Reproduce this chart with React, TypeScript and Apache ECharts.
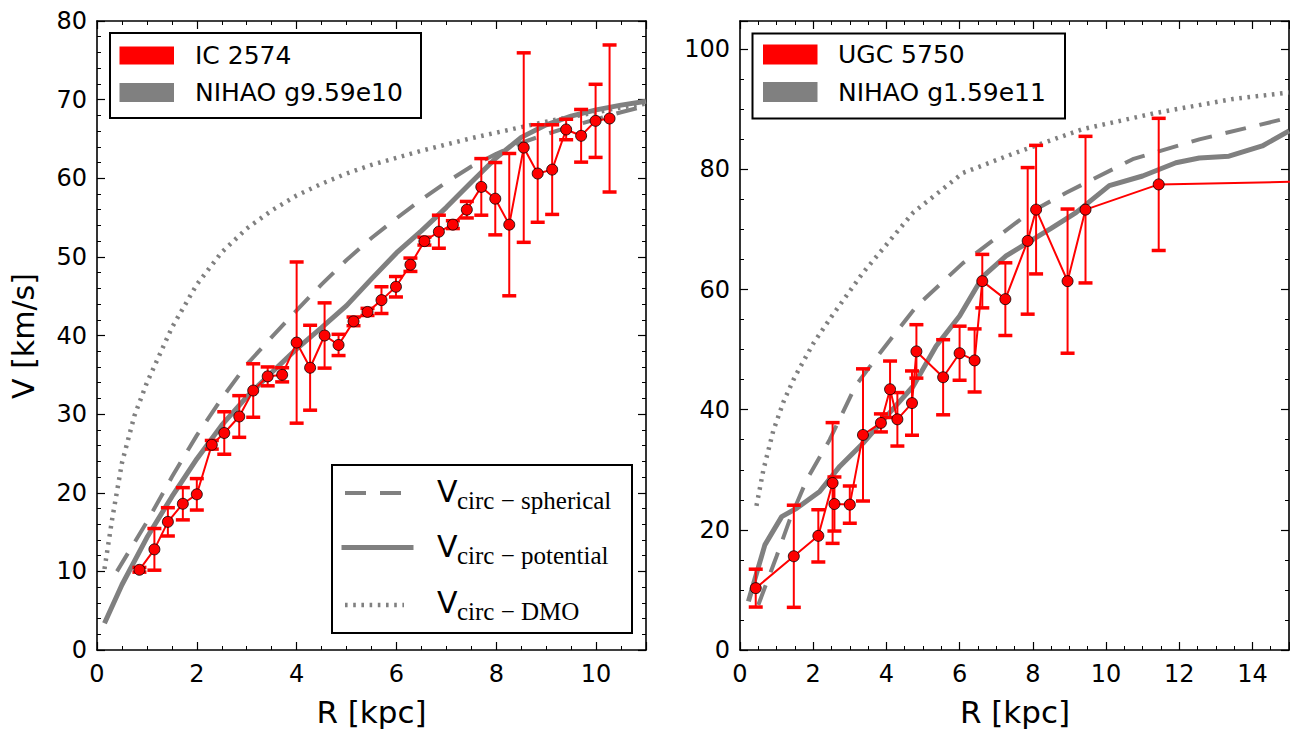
import React, { useEffect, useRef } from 'react';
import * as echarts from 'echarts';

const FONT = '"DejaVu Sans", sans-serif';
const SERIF = '"Liberation Serif", serif';
const GRAY = '#808080';
const RED = '#ff0000';

// ---------- Left panel: IC 2574 ----------
const icR = [0.85, 1.15, 1.42, 1.72, 2.0, 2.3, 2.55, 2.85, 3.13, 3.42, 3.71, 4.0, 4.27, 4.56, 4.84, 5.14, 5.42, 5.7, 5.99, 6.28, 6.56, 6.85, 7.13, 7.41, 7.7, 7.98, 8.26, 8.55, 8.83, 9.12, 9.4, 9.7, 9.99, 10.27];
const icV = [10.2, 12.8, 16.3, 18.6, 19.8, 26.1, 27.6, 29.7, 33.0, 34.8, 35.0, 39.1, 35.9, 40.0, 38.8, 41.8, 43.0, 44.5, 46.2, 49.0, 52.0, 53.2, 54.1, 56.0, 58.9, 57.4, 54.1, 63.9, 60.6, 61.1, 66.2, 65.4, 67.3, 67.6];
const icErr = [0.3, 2.65, 1.8, 2.05, 2.0, 0.55, 2.7, 2.65, 3.4, 1.2, 0.9, 10.25, 5.4, 4.15, 1.35, 0.55, 0.45, 1.7, 1.3, 0.85, 0.5, 2.1, 0.5, 1.05, 3.6, 4.6, 9.05, 12.05, 6.2, 5.7, 1.3, 3.35, 4.65, 9.35];

const lPotR = [0.15, 0.5, 1.0, 1.5, 2.0, 2.5, 3.0, 3.5, 4.0, 4.5, 5.0, 5.5, 6.0, 6.5, 7.0, 7.5, 8.0, 8.5, 9.0, 9.5, 10.0, 10.5, 11.0];
const lPotV = [3.4, 8.3, 14.3, 19.5, 24.3, 28.6, 32.2, 35.3, 38.3, 41.0, 43.8, 47.2, 50.5, 53.3, 56.3, 59.5, 62.6, 65.2, 66.8, 67.9, 68.7, 69.3, 69.8];
const lSphR = [0.4, 1.0, 1.5, 2.0, 2.5, 3.0, 3.5, 4.0, 4.5, 5.0, 5.5, 6.0, 6.5, 7.0, 7.5, 8.0, 8.5, 9.0, 9.5, 10.0, 10.5, 11.0];
const lSphV = [10.0, 16.3, 22.0, 27.3, 32.0, 36.3, 39.8, 43.2, 46.5, 49.6, 52.4, 54.9, 57.3, 59.5, 61.5, 63.1, 64.5, 65.6, 66.6, 67.5, 68.4, 69.2];
const lDmoR = [0.15, 0.3, 0.5, 0.75, 1.0, 1.5, 2.0, 2.5, 3.0, 3.5, 4.0, 4.5, 5.0, 5.5, 6.0, 6.5, 7.0, 7.5, 8.0, 8.5, 9.0, 9.5, 10.0, 10.5, 11.0];
const lDmoV = [10.3, 16.5, 23.8, 29.8, 34.0, 41.0, 46.5, 50.6, 53.6, 55.9, 57.8, 59.3, 60.6, 61.7, 62.6, 63.5, 64.3, 65.1, 65.8, 66.5, 67.2, 67.8, 68.4, 69.0, 69.5];

// ---------- Right panel: UGC 5750 ----------
const ugcR = [0.43, 1.47, 2.14, 2.53, 2.58, 3.0, 3.36, 3.85, 4.1, 4.3, 4.7, 4.82, 5.55, 6.0, 6.41, 6.62, 7.25, 7.86, 8.09, 8.95, 9.44, 11.44, 16.5];
const ugcV = [10.3, 15.6, 19.0, 27.8, 24.3, 24.2, 35.8, 37.8, 43.4, 38.4, 41.1, 49.7, 45.4, 49.4, 48.2, 61.4, 58.4, 68.1, 73.3, 61.4, 73.3, 77.5, 78.1];
const ugcErr = [3.15, 8.5, 4.35, 10.05, 4.5, 3.1, 11.0, 1.5, 4.7, 4.45, 5.35, 4.45, 6.25, 4.5, 5.25, 4.45, 6.05, 12.2, 10.7, 12.0, 12.2, 11.0, 0];

const rPotR = [0.23, 0.68, 1.14, 1.55, 2.18, 2.73, 3.36, 4.0, 4.73, 5.36, 6.0, 6.64, 7.27, 7.86, 8.5, 9.18, 10.09, 11.0, 11.91, 12.55, 13.36, 14.27, 15.0];
const rPotV = [8.1, 17.5, 22.2, 23.6, 26.4, 30.6, 34.4, 38.9, 43.9, 50.6, 55.6, 62.2, 65.6, 67.8, 70.2, 72.8, 77.3, 78.9, 81.1, 81.9, 82.2, 83.9, 86.4];
const rSphR = [0.5, 1.0, 1.36, 1.82, 2.45, 3.16, 3.82, 4.82, 6.09, 7.0, 7.91, 8.91, 10.73, 12.55, 15.0];
const rSphV = [7.5, 15.6, 21.7, 28.3, 35.0, 44.0, 49.4, 57.2, 64.4, 68.6, 72.8, 76.1, 81.7, 85.0, 88.6];
const rDmoR = [0.45, 0.64, 0.91, 1.2, 1.5, 2.0, 2.5, 3.36, 4.73, 6.09, 7.5, 9.36, 11.36, 13.45, 15.0];
const rDmoV = [24.0, 30.0, 36.5, 41.5, 45.5, 51.0, 55.5, 62.8, 72.8, 79.4, 82.7, 86.7, 89.4, 91.7, 92.8];

// ---------- Tick settings ----------
const leftX = { max: 11, interval: 2, minor: 4 };
const leftY = { max: 80, interval: 10, minor: 5 };
const rightX = { max: 15, interval: 2, minor: 4 };
const rightY = { max: 104.7, interval: 20, minor: 4 };

const pairs = (r: number[], v: number[]) => r.map((x, i) => [x, v[i]]);
const errData = (r: number[], v: number[], e: number[]) => r.map((x, i) => [x, v[i] - e[i], v[i] + e[i]]);

const errRender = (_params: any, api: any) => {
  const x = api.value(0);
  const lo = api.coord([x, api.value(1)]);
  const hi = api.coord([x, api.value(2)]);
  const w = 7;
  return {
    type: 'group',
    children: [
      { type: 'line', shape: { x1: lo[0], y1: lo[1], x2: hi[0], y2: hi[1] }, style: { stroke: RED, lineWidth: 2 } },
      { type: 'line', shape: { x1: lo[0] - w, y1: lo[1], x2: lo[0] + w, y2: lo[1] }, style: { stroke: RED, lineWidth: 3.5 } },
      { type: 'line', shape: { x1: hi[0] - w, y1: hi[1], x2: hi[0] + w, y2: hi[1] }, style: { stroke: RED, lineWidth: 3.5 } },
    ],
  };
};

const axisCommon = (gi: number, s: any) => ({
  type: 'value',
  gridIndex: gi,
  min: 0,
  max: s.max,
  interval: s.interval,
  axisLine: { show: true, onZero: false, lineStyle: { color: '#000', width: 1.6 } },
  axisTick: { show: true, inside: true, length: 8, lineStyle: { color: '#000', width: 1.2 } },
  minorTick: { show: true, splitNumber: s.minor, length: 4, lineStyle: { color: '#000', width: 1 } },
  splitLine: { show: false },
  minorSplitLine: { show: false },
});

const labelStyle = { fontFamily: FONT, fontSize: 24, color: '#000' };

const makeX = (gi: number, s: any) => [
  { ...axisCommon(gi, s), position: 'bottom', axisLabel: { ...labelStyle, show: true, margin: 12, showMaxLabel: false } },
  { ...axisCommon(gi, s), position: 'top', axisLabel: { show: false } },
];
const makeY = (gi: number, s: any, hideMax: boolean) => [
  { ...axisCommon(gi, s), position: 'left', axisLabel: { ...labelStyle, show: true, margin: 10, showMaxLabel: !hideMax } },
  { ...axisCommon(gi, s), position: 'right', axisLabel: { show: false } },
];

const curve = (xi: number, yi: number, data: number[][], width: number, type: any, z: number) => ({
  type: 'line',
  xAxisIndex: xi,
  yAxisIndex: yi,
  data,
  symbol: 'none',
  showSymbol: false,
  clip: true,
  lineStyle: { color: GRAY, width, type, cap: 'butt' },
  z,
  silent: true,
});

const DASH = [21, 14];
const DOT = [2.6, 5.6];

const panelSeries = (xi: number, yi: number, pot: number[][], sph: number[][], dmo: number[][], err: number[][], obs: number[][]) => [
  curve(xi, yi, dmo, 4.5, DOT, 2),
  curve(xi, yi, sph, 4, DASH, 2),
  curve(xi, yi, pot, 5, 'solid', 2),
  {
    type: 'custom',
    xAxisIndex: xi,
    yAxisIndex: yi,
    renderItem: errRender,
    data: err,
    encode: { x: 0, y: [1, 2] },
    clip: true,
    z: 3,
    silent: true,
  },
  {
    type: 'line',
    xAxisIndex: xi,
    yAxisIndex: yi,
    data: obs,
    symbol: 'circle',
    symbolSize: 11,
    showSymbol: true,
    clip: true,
    itemStyle: { color: RED, borderColor: '#000', borderWidth: 0.8 },
    lineStyle: { color: RED, width: 2 },
    z: 4,
    silent: true,
  },
];

const txt = (x: number, y: number, text: string, size: number, family = FONT) => ({
  type: 'text',
  x,
  y,
  z: 100,
  style: { text, fontFamily: family, fontSize: size, fill: '#000', align: 'left', verticalAlign: 'middle' },
});

const rect = (x: number, y: number, w: number, h: number, style: any) => ({
  type: 'rect', z: 99, shape: { x, y, width: w, height: h }, style,
});
const seg = (x1: number, x2: number, y: number, width: number, dash: any) => ({
  type: 'line', z: 100, shape: { x1, y1: y, x2, y2: y },
  style: { stroke: GRAY, lineWidth: width, lineDash: dash, lineCap: 'butt' },
});

const legendGraphics = [
  // top-left legend
  rect(110, 33, 311, 85, { fill: '#fff', stroke: '#000', lineWidth: 2 }),
  rect(119.5, 46.5, 54.5, 18, { fill: RED }),
  rect(119.5, 83, 54.5, 19, { fill: GRAY }),
  txt(195, 55.5, 'IC 2574', 25),
  txt(195, 92.5, 'NIHAO g9.59e10', 25),
  // top-right legend
  rect(752.5, 33.5, 312.5, 85, { fill: '#fff', stroke: '#000', lineWidth: 2 }),
  rect(763, 44.5, 54.5, 20, { fill: RED }),
  rect(763, 82, 54.5, 20, { fill: GRAY }),
  txt(838, 54.5, 'UGC 5750', 25),
  txt(838, 92, 'NIHAO g1.59e11', 25),
  // bottom legend (line styles)
  rect(332, 465, 300, 168, { fill: '#fff', stroke: '#000', lineWidth: 2 }),
  seg(345, 409, 493, 4, DASH),
  seg(341.5, 413.5, 547.5, 5, null),
  seg(345, 404, 605, 4.5, DOT),
  txt(437, 491.3, 'V', 30),
  txt(457, 500, 'circ − spherical', 25, SERIF),
  txt(437, 546.5, 'V', 30),
  txt(457, 555.3, 'circ − potential', 25, SERIF),
  txt(437, 602.5, 'V', 30),
  txt(457, 611.5, 'circ − DMO', 25, SERIF),
  // axis titles
  {
    type: 'text', x: 23, y: 336, rotation: Math.PI / 2, z: 100,
    style: { text: 'V [km/s]', fontFamily: FONT, fontSize: 30, fill: '#000', align: 'center', verticalAlign: 'middle' },
  },
  { type: 'text', x: 371.5, y: 712, z: 100, style: { text: 'R [kpc]', fontFamily: FONT, fontSize: 31, fill: '#000', align: 'center', verticalAlign: 'middle' } },
  { type: 'text', x: 1015, y: 712, z: 100, style: { text: 'R [kpc]', fontFamily: FONT, fontSize: 31, fill: '#000', align: 'center', verticalAlign: 'middle' } },
];

export default function App() {
  const ref = useRef<HTMLDivElement>(null);
  useEffect(() => {
    if (!ref.current) return;
    const chart = echarts.init(ref.current, undefined, { renderer: 'svg' });
    chart.setOption({
      animation: false,
      backgroundColor: '#fff',
      grid: [
        { left: 97, top: 21, width: 549, height: 629 },
        { left: 740, top: 21, width: 549, height: 629 },
      ],
      xAxis: [...makeX(0, leftX), ...makeX(1, rightX)],
      yAxis: [...makeY(0, leftY, false), ...makeY(1, rightY, true)],
      series: [
        ...panelSeries(0, 0, pairs(lPotR, lPotV), pairs(lSphR, lSphV), pairs(lDmoR, lDmoV), errData(icR, icV, icErr), pairs(icR, icV)),
        ...panelSeries(2, 2, pairs(rPotR, rPotV), pairs(rSphR, rSphV), pairs(rDmoR, rDmoV), errData(ugcR, ugcV, ugcErr), pairs(ugcR, ugcV)),
      ],
      graphic: { elements: legendGraphics },
    });
    return () => chart.dispose();
  }, []);
  return <div ref={ref} style={{ position: 'absolute', left: 0, top: 0, width: 1290, height: 729 }} />;
}
